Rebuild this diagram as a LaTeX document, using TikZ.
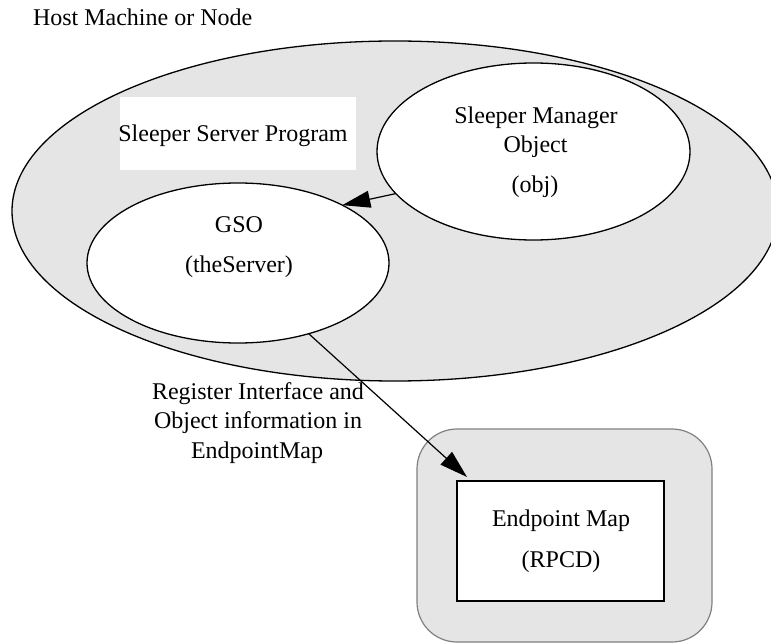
\documentclass[tikz,border=0pt]{standalone}
\usepackage{fontspec}
\setmainfont{Liberation Serif}
\usetikzlibrary{arrows.meta,shapes.geometric,calc}
\definecolor{shade}{HTML}{E5E5E5}
\definecolor{rimgray}{HTML}{808080}
\begin{document}
\begin{tikzpicture}[x=1pt,y=-1pt,
  every node/.style={font=\fontsize{24}{28}\selectfont, inner sep=0pt, outer sep=0pt},
  oval/.style={ellipse, draw=black, line width=1.3pt},
  txt/.style={anchor=base},
  link/.style={line width=1.2pt, -{Triangle[length=28pt,width=17pt]}}]
\useasboundingbox (0,0) rectangle (771,644);

% host machine boundary
\node[oval, fill=shade, minimum width=766pt, minimum height=340pt] (host) at (395,211) {};
\node[txt, anchor=base west] (hostlbl) at (33,26) {Host Machine or Node};

% server program caption on its white panel
\node[fill=white, minimum width=236pt, minimum height=73pt] (prog) at (238,133.5) {};
\node[txt] (progtxt) at (233,142) {Sleeper Server Program};

% objects inside the server program
\node[oval, fill=white, minimum width=313pt, minimum height=177pt] (mgr) at (533.5,151.5) {};
\node[txt] (mgr1) at (536,124) {Sleeper Manager};
\node[txt] (mgr2) at (535.5,153) {Object};
\node[txt] (mgr3) at (535,193) {(obj)};

\node[oval, fill=white, minimum width=302pt, minimum height=160pt] (gso) at (238,263) {};
\node[txt] (gso1) at (239,233) {GSO};
\node[txt] (gso2) at (239,273) {(theServer)};

% endpoint mapper
\node[draw=rimgray, line width=1.2pt, fill=shade, rounded corners=40pt,
      minimum width=295pt, minimum height=213pt] (rpcd) at (564.5,535.5) {};
\node[draw=black, line width=1.2pt, fill=white,
      minimum width=207pt, minimum height=120pt] (ep) at (560.5,541) {};
\node[txt] (ep1) at (561,526) {Endpoint Map};
\node[txt] (ep2) at (561,567) {(RPCD)};

% registration label
\node[txt] (reg1) at (258,399) {Register Interface and};
\node[txt] (reg2) at (258,428) {Object information in};
\node[txt] (reg3) at (257,458) {EndpointMap};

% connectors
\coordinate (eptip) at ($(ep.north west)+(10,-4)$);
\draw[link] (mgr.197) -- (gso.29);
\draw[link] (gso.-45) -- (eptip);
\end{tikzpicture}
\end{document}
